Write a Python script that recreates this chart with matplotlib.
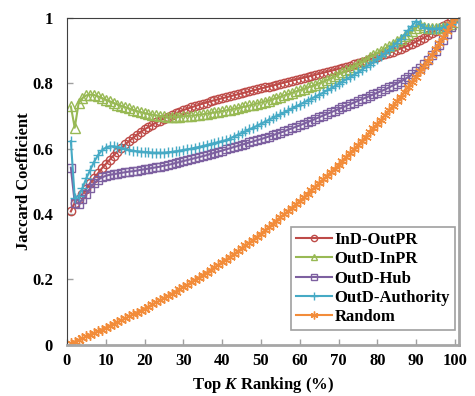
import matplotlib
matplotlib.use("Agg")
import matplotlib.pyplot as plt

plt.rcParams['font.family'] = ['Liberation Serif', 'DejaVu Serif']
plt.rcParams['mathtext.fontset'] = 'custom'
plt.rcParams['mathtext.rm'] = 'Liberation Serif'
plt.rcParams['mathtext.it'] = 'Liberation Serif:italic'
plt.rcParams['mathtext.bf'] = 'Liberation Serif:bold'
plt.rcParams['mathtext.bfit'] = 'Liberation Serif:italic:bold'

x_values = list(range(1, 101))

ind_outpr = [
    0.408, 0.435, 0.447, 0.462, 0.478, 0.495, 0.510, 0.525, 0.540, 0.553,
    0.566, 0.579, 0.591, 0.602, 0.613, 0.623, 0.633, 0.642, 0.651, 0.659,
    0.666, 0.673, 0.680, 0.686, 0.692, 0.698, 0.703, 0.708, 0.713, 0.718,
    0.722, 0.726, 0.730, 0.734, 0.738, 0.741, 0.745, 0.748, 0.751, 0.754,
    0.757, 0.760, 0.763, 0.766, 0.769, 0.772, 0.775, 0.778, 0.781, 0.784,
    0.787, 0.790, 0.793, 0.796, 0.799, 0.802, 0.805, 0.808, 0.811, 0.814,
    0.817, 0.820, 0.823, 0.826, 0.829, 0.832, 0.835, 0.838, 0.841, 0.844,
    0.847, 0.851, 0.854, 0.858, 0.861, 0.865, 0.869, 0.873, 0.877, 0.881,
    0.885, 0.889, 0.893, 0.897, 0.901, 0.906, 0.911, 0.916, 0.921, 0.927,
    0.933, 0.939, 0.946, 0.953, 0.960, 0.967, 0.974, 0.981, 0.990, 1.000]

outd_inpr = [
    0.729, 0.664, 0.739, 0.755, 0.763, 0.765, 0.764, 0.760, 0.755, 0.750,
    0.745, 0.740, 0.735, 0.731, 0.727, 0.723, 0.719, 0.715, 0.712, 0.709,
    0.706, 0.704, 0.702, 0.700, 0.699, 0.698, 0.698, 0.698, 0.698, 0.699,
    0.700, 0.701, 0.702, 0.704, 0.705, 0.707, 0.709, 0.711, 0.713, 0.715,
    0.717, 0.719, 0.722, 0.724, 0.727, 0.729, 0.732, 0.735, 0.738, 0.741,
    0.744, 0.747, 0.751, 0.755, 0.759, 0.763, 0.767, 0.771, 0.775, 0.779,
    0.783, 0.787, 0.791, 0.795, 0.800, 0.805, 0.810, 0.815, 0.821, 0.827,
    0.833, 0.839, 0.845, 0.851, 0.858, 0.865, 0.872, 0.879, 0.886, 0.893,
    0.900, 0.907, 0.914, 0.921, 0.928, 0.935, 0.943, 0.951, 0.960, 0.970,
    0.978, 0.972, 0.970, 0.969, 0.969, 0.970, 0.971, 0.974, 0.980, 0.988]

outd_hub = [
    0.542, 0.435, 0.432, 0.445, 0.462, 0.480, 0.495, 0.505, 0.512, 0.517,
    0.520, 0.522, 0.524, 0.526, 0.528, 0.530, 0.531, 0.533, 0.535, 0.537,
    0.539, 0.541, 0.543, 0.545, 0.548, 0.550, 0.553, 0.556, 0.559, 0.562,
    0.565, 0.568, 0.571, 0.574, 0.577, 0.580, 0.584, 0.587, 0.591, 0.594,
    0.598, 0.601, 0.605, 0.608, 0.612, 0.615, 0.619, 0.622, 0.626, 0.629,
    0.633, 0.637, 0.641, 0.645, 0.649, 0.653, 0.658, 0.662, 0.667, 0.671,
    0.676, 0.681, 0.686, 0.691, 0.696, 0.701, 0.706, 0.711, 0.716, 0.721,
    0.726, 0.731, 0.736, 0.741, 0.746, 0.751, 0.756, 0.761, 0.766, 0.771,
    0.776, 0.781, 0.787, 0.793, 0.799, 0.805, 0.812, 0.819, 0.827, 0.836,
    0.846, 0.858, 0.871, 0.885, 0.900, 0.916, 0.933, 0.951, 0.972, 1.000]

outd_authority = [
    0.623, 0.450, 0.455, 0.480, 0.510, 0.535, 0.560, 0.580, 0.595, 0.603,
    0.607, 0.607, 0.605, 0.602, 0.599, 0.596, 0.594, 0.592, 0.591, 0.590,
    0.589, 0.588, 0.588, 0.588, 0.588, 0.589, 0.590, 0.592, 0.594, 0.596,
    0.598, 0.600, 0.603, 0.605, 0.608, 0.611, 0.614, 0.617, 0.620, 0.623,
    0.626, 0.631, 0.637, 0.642, 0.648, 0.653, 0.659, 0.664, 0.670, 0.676,
    0.682, 0.688, 0.694, 0.700, 0.705, 0.711, 0.717, 0.723, 0.729, 0.735,
    0.741, 0.747, 0.753, 0.759, 0.765, 0.771, 0.778, 0.784, 0.791, 0.798,
    0.805, 0.812, 0.819, 0.826, 0.833, 0.841, 0.849, 0.857, 0.865, 0.874,
    0.883, 0.892, 0.902, 0.913, 0.924, 0.936, 0.949, 0.962, 0.976, 0.990,
    0.980, 0.970, 0.968, 0.967, 0.967, 0.968, 0.970, 0.974, 0.980, 0.988]

random_baseline = [
    0.005, 0.010, 0.015, 0.020, 0.026, 0.031, 0.036, 0.042, 0.047, 0.053,
    0.058, 0.064, 0.070, 0.075, 0.081, 0.087, 0.093, 0.099, 0.105, 0.111,
    0.117, 0.124, 0.130, 0.136, 0.143, 0.149, 0.156, 0.163, 0.170, 0.177,
    0.184, 0.191, 0.199, 0.206, 0.214, 0.221, 0.229, 0.237, 0.245, 0.253,
    0.261, 0.269, 0.278, 0.286, 0.295, 0.304, 0.313, 0.322, 0.331, 0.340,
    0.350, 0.360, 0.370, 0.380, 0.390, 0.400, 0.410, 0.420, 0.430, 0.440,
    0.451, 0.462, 0.473, 0.484, 0.495, 0.506, 0.517, 0.528, 0.539, 0.551,
    0.563, 0.575, 0.587, 0.599, 0.611, 0.624, 0.637, 0.650, 0.663, 0.676,
    0.689, 0.703, 0.717, 0.731, 0.745, 0.759, 0.774, 0.789, 0.804, 0.820,
    0.836, 0.852, 0.869, 0.887, 0.905, 0.923, 0.942, 0.961, 0.980, 1.000]

series_names = ['InD-OutPR', 'OutD-InPR', 'OutD-Hub', 'OutD-Authority', 'Random']
series_values = [ind_outpr, outd_inpr, outd_hub, outd_authority, random_baseline]
series_colors = ['#BE4B48', '#98B954', '#7D60A0', '#46AAC5', '#F28C3A']
series_markers = ['o', '^', 's', '+', (6, 2, 0)]
series_msize = [6.0, 6.5, 6.0, 7.5, 7.5]

x_ticks = [0, 10, 20, 30, 40, 50, 60, 70, 80, 90, 100]
y_ticks = [0, 0.2, 0.4, 0.6, 0.8, 1.0]
y_tick_labels = ['0', '0.2', '0.4', '0.6', '0.8', '1']

fig = plt.figure(figsize=(4.75, 3.96), dpi=100)
ax = fig.add_axes([0.141, 0.129, 0.825, 0.826])

for name, vals, col, mk, ms in zip(series_names, series_values, series_colors,
                                   series_markers, series_msize):
    ax.plot(x_values, vals, color=col, marker=mk, markersize=ms,
            markerfacecolor='none', markeredgecolor=col, markeredgewidth=1.0,
            linewidth=1.5, label=name)

ax.set_xlim(0, 101)
ax.set_ylim(0, 1)
ax.set_xticks(x_ticks)
ax.set_xticklabels([str(t) for t in x_ticks])
ax.set_yticks(y_ticks)
ax.set_yticklabels(y_tick_labels)
ax.tick_params(direction='in', length=4, width=1, color='#A0A0A0')
ax.tick_params(axis='x', pad=6)
ax.tick_params(axis='y', pad=10)
for lab in ax.get_xticklabels() + ax.get_yticklabels():
    lab.set_fontsize(12)
    lab.set_fontweight('bold')

ax.spines['left'].set_color('#404040')
ax.spines['top'].set_color('#404040')
ax.spines['right'].set_color('#A6A6A6')
ax.spines['bottom'].set_color('#A6A6A6')
ax.spines['right'].set_linewidth(2)
ax.spines['bottom'].set_linewidth(2)

ax.set_xlabel('Top $\\mathbfit{K}$ Ranking (%)', fontsize=12, fontweight='bold')
ax.set_ylabel('Jaccard Coefficient', fontsize=12, fontweight='bold', labelpad=0)

leg = ax.legend(loc='lower right', bbox_to_anchor=(0.99, 0.045), borderaxespad=0,
                fancybox=False, framealpha=1, edgecolor='#A0A0A0',
                prop={'size': 12, 'weight': 'bold'}, handlelength=2.2,
                handletextpad=0.12, labelspacing=0.2, borderpad=0.3,
                markerscale=0.75)
leg.get_frame().set_linewidth(1.2)

fig.savefig('out.png', dpi=100)
